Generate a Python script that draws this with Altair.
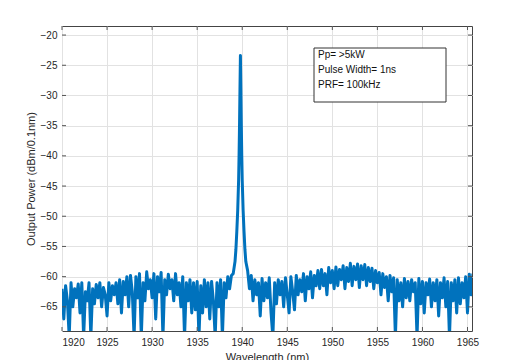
import altair as alt
import pandas as pd

# Noise floor, 1920.0 .. 1939.0 nm, 0.2 nm sampling
seg1_db = [
    -62, -67, -61.5, -64, -70, -61, -65, -62, -63.5, -61.2,
    -66, -61, -70, -62.5, -64, -61, -70, -62, -64.5, -61.3,
    -63.5, -61, -65, -61.8, -63, -66.5, -61, -64, -61.5, -63,
    -61, -64.5, -60.5, -66, -60.8, -63, -60, -65, -59.8, -62.5,
    -70, -60, -63.5, -59.5, -70, -61, -64, -59.2, -62, -60.5,
    -63.5, -59.5, -67, -60, -62.5, -59.3, -70, -60.5, -63, -59.6,
    -62, -60.5, -64, -59.5, -63, -61, -65, -60, -70, -61,
    -64, -60.5, -66, -61, -65.5, -60.8, -70, -61.5, -66, -60.5,
    -65, -61, -67, -60.8, -64, -70, -61, -65, -60.5, -70,
    -61, -63.5, -60, -62, -59.8, -59.5,
]
seg1_start = 1920.0

# Laser peak
peak_wl = [1939.2, 1939.3, 1939.4, 1939.5, 1939.6, 1939.65, 1939.7, 1939.75, 1939.8,
           1939.85, 1939.9, 1939.95, 1940.0, 1940.1, 1940.2, 1940.3, 1940.4]
peak_db = [-57.5, -55.5, -52.5, -49, -44, -40, -35, -29, -23.4,
           -29, -35, -40, -44, -49, -52.5, -55.5, -57.5]

# Noise floor, 1940.6 .. 1965.6 nm, 0.2 nm sampling
seg2_db = [
    -59, -62, -59.8, -64, -60.5, -63, -61, -66.5, -60.3, -64,
    -61, -63.5, -60.2, -66, -70, -61, -64.5, -60.5, -63, -60.8,
    -65, -60.2, -63, -66, -60, -62.5, -65.5, -59.8, -63, -60.5,
    -62.5, -59.5, -64, -60, -62, -59.2, -63.5, -59.8, -61.5, -59,
    -62, -58.8, -61.5, -59.5, -63, -58.5, -61, -59, -62, -58.4,
    -61.5, -58.8, -60.5, -58.2, -62, -58.5, -60.8, -57.8, -61.5, -58.3,
    -60.5, -57.9, -61.8, -58.2, -60.5, -58, -61.5, -58.5, -60.8, -58.6,
    -62, -59, -61, -59.3, -63, -59.5, -61.8, -60, -64, -59.8,
    -62.5, -60.2, -70, -60.5, -64, -61, -65, -60.3, -63.5, -60.8,
    -64, -60.5, -62.5, -61, -70, -60.3, -64.5, -60.8, -66, -61,
    -63, -60.4, -65, -61, -64, -60.5, -66.5, -61, -63.5, -60.2,
    -65, -60.8, -70, -61, -64, -60.5, -66, -60.2, -64.5, -61,
    -63.5, -60, -66, -59.6, -63, -59.5,
]
seg2_start = 1940.6
step = 0.2

x_ticks = [1920, 1925, 1930, 1935, 1940, 1945, 1950, 1955, 1960, 1965]
y_ticks = [-65, -60, -55, -50, -45, -40, -35, -30, -25, -20]
note = "Pp= >5kW\nPulse Width= 1ns\nPRF= 100kHz"

wl = [round(seg1_start + step * i, 2) for i in range(len(seg1_db))] + peak_wl + \
     [round(seg2_start + step * i, 2) for i in range(len(seg2_db))]
db = seg1_db + peak_db + seg2_db
df = pd.DataFrame({"wl": wl, "db": db})

W, H = 410, 305
xscale = alt.Scale(domain=[1920, 1965.5], nice=False, zero=False)
yscale = alt.Scale(domain=[-69, -18.5], nice=False, zero=False)
X = alt.X("wl:Q", scale=xscale, axis=alt.Axis(values=x_ticks, title="Wavelength (nm)", format="d"))
Y = alt.Y("db:Q", scale=yscale, axis=alt.Axis(values=y_ticks, title="Output Power (dBm/0.1nm)"))

line = alt.Chart(df).mark_line(color="#0072BD", strokeWidth=3, clip=True, strokeJoin="round").encode(
    x=X, y=Y, order="wl:Q")

xt = pd.DataFrame({"wl": x_ticks})
yt = pd.DataFrame({"db": y_ticks})
tc = "#555555"
tick_b = alt.Chart(xt).mark_rule(color=tc).encode(x=X, y=alt.value(H), y2=alt.value(H - 4))
tick_t = alt.Chart(xt).mark_rule(color=tc).encode(x=X, y=alt.value(0), y2=alt.value(4))
tick_l = alt.Chart(yt).mark_rule(color=tc).encode(y=Y, x=alt.value(0), x2=alt.value(4))
tick_r = alt.Chart(yt).mark_rule(color=tc).encode(y=Y, x=alt.value(W), x2=alt.value(W - 4))

box = alt.Chart(pd.DataFrame({"a": [0]})).mark_rect(fill="white", stroke="#333333", strokeWidth=1).encode(
    x=alt.value(252), x2=alt.value(384), y=alt.value(22), y2=alt.value(76))
txt = alt.Chart(pd.DataFrame({"a": [0]})).mark_text(
    align="left", baseline="top", lineBreak="\n", lineHeight=15, fontSize=10,
    font="Liberation Sans", color="#111111").encode(
    x=alt.value(256), y=alt.value(24), text=alt.value(note))

chart = alt.layer(line, tick_b, tick_t, tick_l, tick_r, box, txt).properties(
    width=W, height=H,
    autosize=alt.AutoSizeParams(type="none"),
    padding={"left": 54, "top": 18, "right": 30, "bottom": 29},
).configure_view(stroke="#444444", strokeWidth=1).configure_axis(
    labelFont="Liberation Sans", labelFontSize=10, labelColor="#262626",
    titleFont="Liberation Sans", titleFontSize=11, titleFontWeight="normal", titleColor="#262626",
    domain=False, ticks=False, labelPadding=6, titlePadding=4,
    gridColor="#e2e2e2", gridWidth=1,
).configure_axisY(labelPadding=5)

chart.save("out.html", embed_options={"renderer": "svg", "actions": False})
